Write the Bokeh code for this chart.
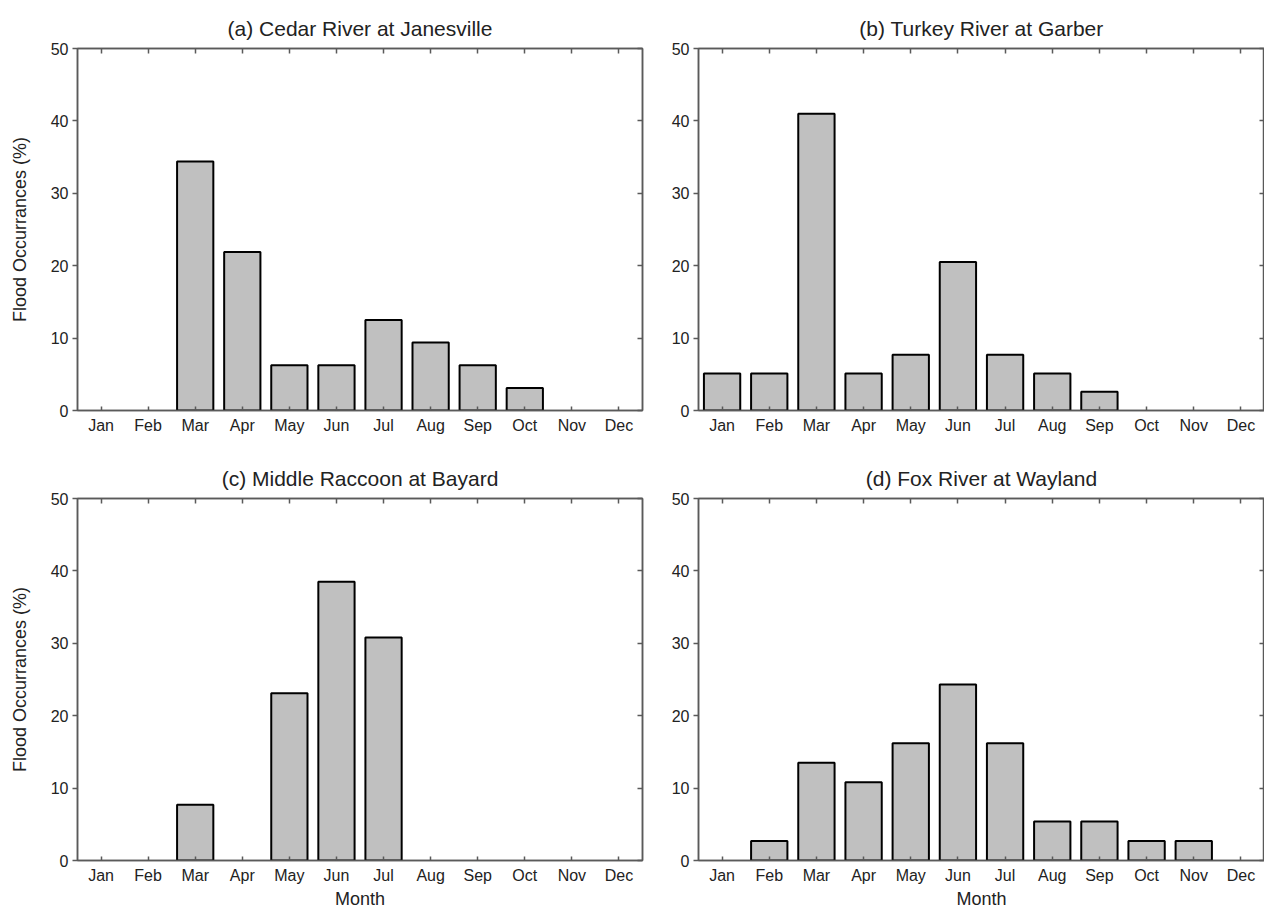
from bokeh.plotting import figure
from bokeh.models import LinearAxis, Range1d, ColumnDataSource, FixedTicker
from bokeh.layouts import column, row
from bokeh.embed import file_html
from bokeh.resources import INLINE

months = ["Jan", "Feb", "Mar", "Apr", "May", "Jun", "Jul", "Aug", "Sep", "Oct", "Nov", "Dec"]
cedar = [0, 0, 34.4, 21.9, 6.25, 6.25, 12.5, 9.4, 6.25, 3.1, 0, 0]
turkey = [5.1, 5.1, 41.0, 5.1, 7.7, 20.5, 7.7, 5.1, 2.6, 0, 0, 0]
raccoon = [0, 0, 7.7, 0, 23.1, 38.5, 30.8, 0, 0, 0, 0, 0]
fox = [0, 2.7, 13.5, 10.8, 16.2, 24.3, 16.2, 5.4, 5.4, 2.7, 2.7, 0]
titles = ["(a) Cedar River at Janesville", "(b) Turkey River at Garber",
          "(c) Middle Raccoon at Bayard", "(d) Fox River at Wayland"]
y_ticks = [0, 10, 20, 30, 40, 50]

FONT = "Liberation Sans"
AX = "#5a5a5a"
TXT = "#222222"

month_pos = list(range(1, len(months) + 1))


def make(values, title, left, bottom):
    w = 668 if left else 596
    h = 455 if not bottom else 456
    p = figure(x_range=Range1d(0.5, len(months) + 0.5), y_range=Range1d(0, 50),
               width=w, height=h, output_backend="svg", toolbar_location=None,
               min_border_left=77 if left else 28, min_border_right=26 if left else 0,
               min_border_top=48 if not bottom else 43, min_border_bottom=45 if not bottom else 51)
    p.title.text = title
    p.title.align = "center"
    p.title.text_font = FONT
    p.title.text_font_size = "21px"
    p.title.text_font_style = "normal"
    p.title.text_color = TXT
    p.title.standoff = 18
    p.grid.visible = False
    p.outline_line_color = AX
    p.outline_line_width = 1.5
    p.background_fill_color = "white"
    p.border_fill_color = "white"

    xs = [x for x, v in zip(month_pos, values) if v > 0]
    ys = [v for v in values if v > 0]
    src = ColumnDataSource(dict(x=xs, top=ys))
    p.vbar(x="x", top="top", width=0.77, bottom=0, source=src,
           fill_color="#c0c0c0", line_color="black", line_width=2)

    xa = p.xaxis[0]
    xa.ticker = FixedTicker(ticks=month_pos)
    xa.major_label_overrides = {x: m for x, m in zip(month_pos, months)}
    xa.minor_tick_line_color = None
    xa.major_tick_in = 4
    xa.major_tick_out = 0
    xa.major_label_standoff = 6
    xa.major_label_text_font = FONT
    xa.major_label_text_font_size = "16px"
    xa.major_label_text_color = TXT
    xa.axis_line_color = AX
    xa.axis_line_width = 1.5
    xa.major_tick_line_color = AX
    xa.major_tick_line_width = 1.5
    if bottom:
        xa.axis_label = "Month"
        xa.axis_label_text_font = FONT
        xa.axis_label_text_font_size = "18px"
        xa.axis_label_text_font_style = "normal"
        xa.axis_label_text_color = TXT
        xa.axis_label_standoff = 2

    ya = p.yaxis[0]
    ya.ticker = FixedTicker(ticks=y_ticks)
    ya.minor_tick_line_color = None
    ya.major_tick_in = 0
    ya.major_tick_out = 5
    ya.major_label_standoff = 4
    ya.major_label_text_font = FONT
    ya.major_label_text_font_size = "16px"
    ya.major_label_text_color = TXT
    ya.axis_line_color = AX
    ya.axis_line_width = 1.5
    ya.major_tick_line_color = AX
    ya.major_tick_line_width = 1.5
    if left:
        ya.axis_label = "Flood Occurrances (%)"
        ya.axis_label_text_font = FONT
        ya.axis_label_text_font_size = "18px"
        ya.axis_label_text_font_style = "normal"
        ya.axis_label_text_color = TXT
        ya.axis_label_standoff = 18

    top_ax = LinearAxis(ticker=FixedTicker(ticks=month_pos),
                        major_tick_in=5, major_tick_out=0, major_label_standoff=0,
                        major_label_overrides={t: "" for t in month_pos},
                        minor_tick_line_color=None,
                        axis_line_color=AX, axis_line_width=1.5,
                        major_tick_line_color=AX, major_tick_line_width=1.5)
    p.add_layout(top_ax, "above")
    right_ax = LinearAxis(ticker=FixedTicker(ticks=y_ticks), major_tick_in=5, major_tick_out=0,
                          major_label_standoff=0,
                          major_label_overrides={t: "" for t in y_ticks},
                          minor_tick_line_color=None, axis_line_color=AX, axis_line_width=1.5,
                          major_tick_line_color=AX, major_tick_line_width=1.5)
    p.add_layout(right_ax, "right")
    return p


pa = make(cedar, titles[0], True, False)
pb = make(turkey, titles[1], False, False)
pc = make(raccoon, titles[2], True, True)
pd_ = make(fox, titles[3], False, True)

layout = column(row(pa, pb), row(pc, pd_))
open("out.html", "w").write(file_html(layout, INLINE))
